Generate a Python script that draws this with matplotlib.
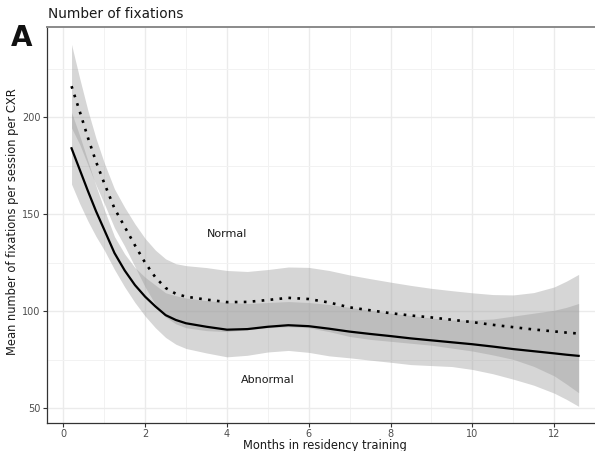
import matplotlib
matplotlib.use("Agg")
import matplotlib.pyplot as plt
from matplotlib.ticker import MultipleLocator

# ---- data ----
months = [0.2, 0.4, 0.6, 0.8, 1.0, 1.25, 1.5, 1.75, 2.0, 2.25, 2.5, 2.75, 3.0,
          3.5, 4.0, 4.5, 5.0, 5.5, 6.0, 6.5, 7.0, 7.5, 8.0, 8.5, 9.0, 9.5,
          10.0, 10.5, 11.0, 11.5, 12.0, 12.3, 12.6]

normal_mean = [216, 203, 189.5, 177, 166, 153, 143.5, 134, 125, 117.5, 112, 109, 107.5,
               106, 104.7, 104.8, 105.8, 106.9, 106.3, 104.5, 102, 100.5, 99, 97.8, 96.8, 95.6,
               94.4, 93, 91.8, 90.6, 89.6, 89, 88.5]
normal_upper = [237.5, 220, 203.5, 189, 176.5, 163, 153.5, 145, 137.5, 131.5, 127, 124.5, 123.5,
                122.5, 121, 120.5, 121.5, 122.8, 122.6, 121, 118.7, 116.8, 115, 113.3, 111.8, 110.6,
                109.5, 108.6, 108.4, 109.6, 112.5, 115.5, 119]
normal_lower = [194.5, 186, 175.5, 165, 155.5, 143, 133.5, 123, 112.5, 103.5, 97, 93.5, 91.5,
                90, 89.5, 90.5, 91.5, 92, 91.5, 89.5, 87, 85.5, 84.5, 83.5, 82.5, 81,
                79.5, 77.5, 75.2, 71.6, 66.7, 62.5, 58]

abnormal_mean = [184, 173, 162, 151.5, 142, 130, 121, 113.5, 107.5, 102.5, 98, 95.5, 93.8,
                 92, 90.5, 90.8, 92, 92.8, 92.3, 91, 89.5, 88.3, 87.2, 86, 85, 84,
                 83, 81.8, 80.5, 79.4, 78.3, 77.6, 77]
abnormal_upper = [202.5, 190.5, 177.5, 164.5, 152.5, 138.5, 129.5, 122.5, 117.5, 113.5, 109.5, 108, 106.8,
                  105.5, 104.5, 104, 104.5, 105, 104.5, 103.5, 102, 100.5, 99, 97.8, 96.5, 95.5,
                  95.5, 96, 97.5, 99, 100.5, 102, 104]
abnormal_lower = [165.5, 155.5, 146.5, 138.5, 131.5, 121.5, 112.5, 104.5, 97.5, 91.5, 86.5, 83, 80.8,
                  78.5, 76.5, 77.3, 79, 79.8, 78.8, 77, 76, 74.8, 73.7, 72.5, 72, 71.5,
                  70, 67.8, 65, 61.9, 57.8, 54.6, 51]

label_normal = ("Normal", 4.0, 140)
label_abnormal = ("Abnormal", 5.0, 64.5)

xticks = [0, 2, 4, 6, 8, 10, 12]
yticks = [50, 100, 150, 200]

# ---- figure ----
W, H = 595, 451
fig = plt.figure(figsize=(W / 100, H / 100), dpi=100)
ax_l, ax_r, ax_t, ax_b = 47, 595, 27, 423
ax = fig.add_axes([ax_l / W, 1 - ax_b / H, (ax_r - ax_l) / W, (ax_b - ax_t) / H])

ax.set_xlim(-0.40, 13.0)
ax.set_ylim(42.4, 246.5)

# grid
ax.set_axisbelow(True)
ax.xaxis.set_minor_locator(MultipleLocator(1))
ax.yaxis.set_minor_locator(MultipleLocator(25))
ax.grid(which="major", color="#ebebeb", linewidth=1.0)
ax.grid(which="minor", color="#f2f2f2", linewidth=0.7)
ax.tick_params(which="minor", length=0)

# bands
ax.fill_between(months, normal_lower, normal_upper, color="#999999", alpha=0.4, linewidth=0)
ax.fill_between(months, abnormal_lower, abnormal_upper, color="#999999", alpha=0.4, linewidth=0)

# lines
ax.plot(months, normal_mean, color="black", linewidth=1.9, linestyle=(0, (1.0, 2.4)),
        dash_capstyle="butt")
ax.plot(months, abnormal_mean, color="black", linewidth=1.6, linestyle="-")

ax.text(label_normal[1], label_normal[2], label_normal[0], ha="center", va="center",
        fontsize=8, color="#1a1a1a")
ax.text(label_abnormal[1], label_abnormal[2], label_abnormal[0], ha="center", va="center",
        fontsize=8, color="#1a1a1a")

# axes styling
ax.set_xticks(xticks)
ax.set_yticks(yticks)
ax.tick_params(which="major", length=3, width=0.8, color="#333333", labelsize=7,
               labelcolor="#4d4d4d", pad=1.5)
ax.spines["right"].set_visible(False)
ax.spines["top"].set_color("#8a8a8a")
ax.spines["top"].set_linewidth(1.4)
for s in ["left", "bottom"]:
    ax.spines[s].set_color("#333333")
    ax.spines[s].set_linewidth(0.9)

ax.set_xlabel("Months in residency training", fontsize=8.3, color="#1a1a1a")
ax.xaxis.label.set_va("center")
ax.xaxis.set_label_coords((325 - ax_l) / (ax_r - ax_l), -(445 - ax_b) / (ax_b - ax_t))
ax.set_ylabel("Mean number of fixations per session per CXR", fontsize=8.3, color="#1a1a1a")
ax.yaxis.label.set_va("center")
ax.yaxis.set_label_coords(-(ax_l - 13) / (ax_r - ax_l), (ax_b - 221.5) / (ax_b - ax_t))

fig.text(48 / W, 1 - 14.5 / H, "Number of fixations", fontsize=9.8, color="#1a1a1a",
         ha="left", va="center")
fig.text(11 / W, 1 - 38.5 / H, "A", fontsize=20, fontweight="bold", color="#111111",
         ha="left", va="center")

fig.savefig("out.png", dpi=100)
